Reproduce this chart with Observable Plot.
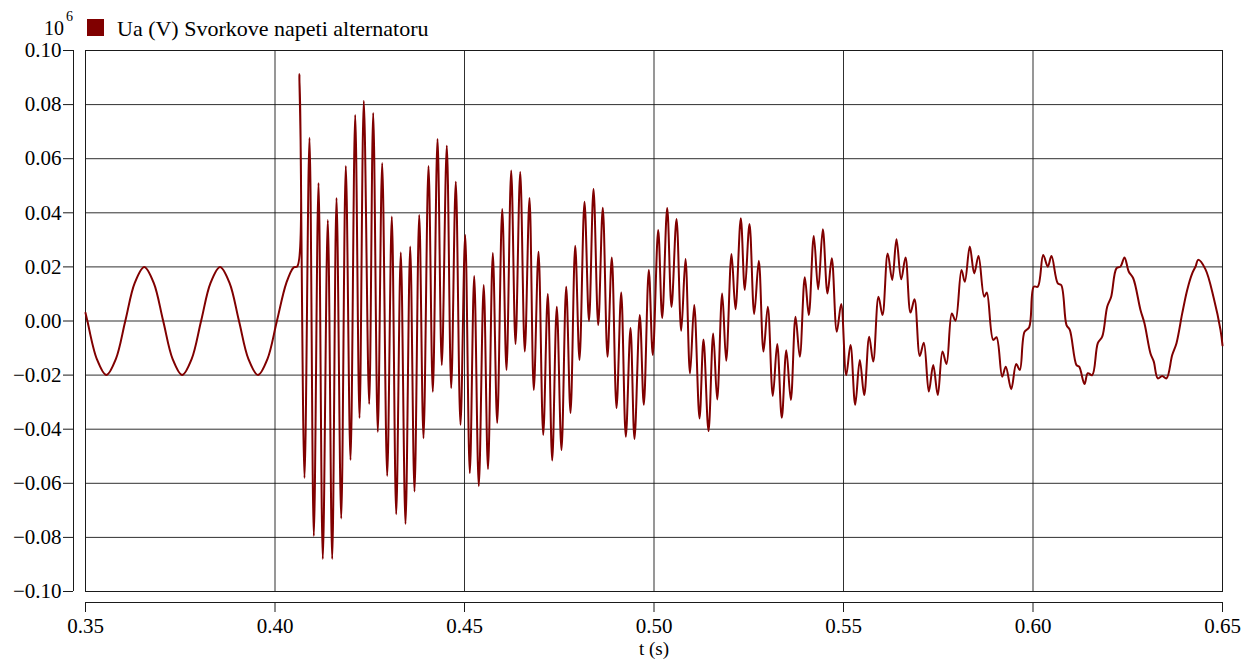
<!DOCTYPE html>
<html>
<head>
<meta charset="utf-8">
<script src="https://cdn.jsdelivr.net/npm/d3@7"></script>
<script src="https://cdn.jsdelivr.net/npm/@observablehq/plot@0.6"></script>
<style>
  html, body { margin: 0; padding: 0; background: #fff; }
  #wrap { width: 1254px; }
  #head { position: relative; width: 1254px; height: 40px; font-family: "Liberation Serif", serif; color: #000; }
  #head span { position: absolute; line-height: 1; white-space: nowrap; }
</style>
</head>
<body>
<div id="wrap">
  <div id="head">
    <span id="exp10" style="left:44px; top:18px; font-size:20px;">10</span>
    <span id="exp6" style="left:66px; top:10px; font-size:14px;">6</span>
    <span id="sw" style="left:87px; top:19px; width:17px; height:17px; background:#800000;"></span>
    <span id="leg" style="left:117px; top:18px; font-size:22px;"></span>
  </div>
  <div id="chart"></div>
</div>
<script>
// ---- labels ----
const seriesName = "Ua (V) Svorkove napeti alternatoru";
const xLabel = "t (s)";
const xTicks = [0.35, 0.40, 0.45, 0.50, 0.55, 0.60, 0.65];
const yTicks = [-0.10, -0.08, -0.06, -0.04, -0.02, 0.00, 0.02, 0.04, 0.06, 0.08, 0.10];

// ---- series: time (s) and voltage (x10^6 V) ----
const tSteady = [0.35, 0.3505, 0.353, 0.3555, 0.358, 0.3605, 0.363, 0.3655, 0.368, 0.3705,
  0.373, 0.3755, 0.378, 0.3805, 0.383, 0.3855, 0.388, 0.3905, 0.393, 0.3955,
  0.398, 0.4005, 0.403, 0.4049, 0.4059];
const uSteady = [0.003, 0.0, -0.0141, -0.02, -0.0141, 0.0, 0.0141, 0.02, 0.0141, 0.0,
  -0.0141, -0.02, -0.0141, 0.0, 0.0141, 0.02, 0.0141, 0.0, -0.0141, -0.02,
  -0.0141, 0.0, 0.0141, 0.0198, 0.0202];

const tFault = [0.40646, 0.40778, 0.40910, 0.41024, 0.41148, 0.41261, 0.41393, 0.41509, 0.41623, 0.41747,
  0.41868, 0.41992, 0.42116, 0.42230, 0.42343, 0.42485, 0.42591, 0.42712, 0.42828, 0.42960,
  0.43082, 0.43198, 0.43319, 0.43443, 0.43567, 0.43681, 0.43805, 0.43918, 0.44050, 0.44164,
  0.44288, 0.44401, 0.44533, 0.44649, 0.44770, 0.44894, 0.45018, 0.45140, 0.45256, 0.45377,
  0.45507, 0.45620, 0.45747, 0.45863, 0.45995, 0.46108, 0.46232, 0.46346, 0.46470, 0.46591,
  0.46715, 0.46828, 0.46953, 0.47077, 0.47198, 0.47314, 0.47435, 0.47559, 0.47683, 0.47797,
  0.47921, 0.48034, 0.48166, 0.48285, 0.48404, 0.48528, 0.48649, 0.48773, 0.48887, 0.49011,
  0.49135, 0.49256, 0.49380, 0.49485, 0.49625, 0.49731, 0.49863, 0.49968, 0.50111, 0.50216,
  0.50348, 0.50462, 0.50594, 0.50718, 0.50831, 0.50950, 0.51061, 0.51201, 0.51306, 0.51438,
  0.51562, 0.51667, 0.51799, 0.51905, 0.52045, 0.52150, 0.52290, 0.52396, 0.52520, 0.52644,
  0.52765, 0.52889, 0.53003, 0.53135, 0.53251, 0.53372, 0.53491, 0.53610, 0.53734, 0.53847,
  0.53979, 0.54084, 0.54216, 0.54332, 0.54454, 0.54578, 0.54691, 0.54823, 0.54939, 0.55071,
  0.55185, 0.55309, 0.55430, 0.55546, 0.55678, 0.55784, 0.55923, 0.56029, 0.56166, 0.56285,
  0.56398, 0.56522, 0.56636, 0.56768, 0.56873, 0.57013, 0.57119, 0.57251, 0.57367, 0.57488,
  0.57612, 0.57718, 0.57858, 0.57955, 0.58113, 0.58201, 0.58332, 0.58449, 0.58562, 0.58712,
  0.58781, 0.58950, 0.59037, 0.59187, 0.59282, 0.59425, 0.59557, 0.59652, 0.59776, 0.59900,
  0.60021, 0.60127, 0.60269, 0.60390, 0.60488, 0.60654, 0.60744, 0.60884, 0.60971, 0.61148,
  0.61219, 0.61359, 0.61446, 0.61562, 0.61710, 0.61826, 0.61958, 0.62063, 0.62203, 0.62309,
  0.62414, 0.62528, 0.62644, 0.62836, 0.62942, 0.63100, 0.63187, 0.63293, 0.63409, 0.63522,
  0.63673, 0.63786, 0.63937, 0.64069, 0.64201, 0.64288, 0.64359, 0.64551, 0.64770, 0.64947,
  0.65];
const uFault = [0.0913, -0.058, 0.0677, -0.0795, 0.051, -0.088, 0.0373, -0.088, 0.0455, -0.073,
  0.0573, -0.0514, 0.0762, -0.0359, 0.0814, -0.0307, 0.0769, -0.041, 0.0584, -0.0573,
  0.0386, -0.0714, 0.0253, -0.075, 0.0275, -0.063, 0.0392, -0.0433, 0.0573, -0.0262,
  0.0673, -0.0163, 0.0648, -0.0248, 0.0515, -0.0384, 0.0318, -0.0562, 0.0166, -0.061,
  0.0133, -0.0547, 0.0251, -0.0377, 0.0414, -0.0181, 0.0556, -0.0085, 0.0551, -0.0113,
  0.0455, -0.0255, 0.0256, -0.0421, 0.010, -0.0516, 0.0053, -0.0477, 0.0127, -0.034,
  0.0278, -0.0144, 0.0441, 0.0, 0.0488, -0.0015, 0.0419, -0.0132, 0.0235, -0.0322,
  0.0105, -0.0428, -0.0026, -0.0436, 0.0022, -0.031, 0.0189, -0.0126, 0.0336, 0.0011,
  0.0418, 0.0052, 0.0377, -0.0036, 0.0229, -0.0194, 0.0059, -0.036, -0.0068, -0.0407,
  -0.0046, -0.029, 0.0102, -0.0147, 0.0248, 0.0043, 0.038, 0.0115, 0.0359, 0.0026,
  0.0223, -0.0113, 0.0053, -0.0277, -0.0085, -0.0358, -0.0108, -0.0292, 0.0016, -0.0132,
  0.0162, 0.0022, 0.0314, 0.0117, 0.0339, 0.0102, 0.0232, -0.004, 0.0063, -0.020,
  -0.0089, -0.031, -0.0144, -0.0274, -0.0058, -0.015, 0.009, 0.0022, 0.025, 0.0152,
  0.0302, 0.0154, 0.0235, 0.0031, 0.008, -0.0129, -0.008, -0.0261, -0.0163, -0.0274,
  -0.0113, -0.0159, 0.0028, 0.0001, 0.0189, 0.0145, 0.0275, 0.0176, 0.024, 0.009,
  0.0105, -0.007, -0.006, -0.0206, -0.0169, -0.0252, -0.0159, -0.0181, -0.004, -0.0023,
  0.0127, 0.0127, 0.0244, 0.0201, 0.024, 0.0139, 0.0133, -0.0015, -0.0033, -0.0163,
  -0.0169, -0.0233, -0.0193, -0.020, -0.0082, -0.0058, 0.0053, 0.009, 0.0195, 0.0201,
  0.0235, 0.0182, 0.0158, 0.0041, -0.0009, -0.012, -0.015, -0.0212, -0.0203, -0.0212,
  -0.0126, -0.0082, 0.0028, 0.0115, 0.0176, 0.0201, 0.0226, 0.0191, 0.0084, -0.0033,
  -0.009];

const times = tSteady.concat(tFault);
const volts = uSteady.concat(uFault);
const data = times.map((t, i) => ({t, u: volts[i]}));

document.getElementById("leg").textContent = seriesName;

const fmt = d3.format(".2f");
const gridColor = "#1a1a1a";
const lineColor = "#800000";

const chart = Plot.plot({
  width: 1254,
  height: 622,
  marginTop: 10,
  marginBottom: 71,
  marginLeft: 85,
  marginRight: 32,
  style: {fontFamily: "'Liberation Serif', serif", fontSize: "21px", color: "#000", background: "#fff", overflow: "visible"},
  x: {domain: [0.35, 0.65]},
  y: {domain: [-0.10, 0.10]},
  marks: [
    Plot.gridX(xTicks, {stroke: gridColor, strokeOpacity: 0.9, strokeWidth: 1}),
    Plot.gridY(yTicks, {stroke: gridColor, strokeOpacity: 0.9, strokeWidth: 1}),
    Plot.frame({stroke: gridColor, strokeWidth: 1}),
    Plot.ruleX([0.35], {dx: -12, stroke: gridColor, strokeWidth: 1}),
    Plot.ruleY([-0.10], {dy: 11, stroke: gridColor, strokeWidth: 1}),
    Plot.axisX({ticks: xTicks, tickFormat: fmt, tickSize: 10, dy: 11, tickPadding: 6, label: null, fontSize: 21, stroke: gridColor}),
    Plot.axisY({ticks: yTicks, tickFormat: fmt, tickSize: 10, dx: -12, tickPadding: 2, label: null, fontSize: 21, stroke: gridColor}),
    Plot.text([xLabel], {frameAnchor: "bottom", dy: 50, lineAnchor: "top", text: d => d, fontSize: 19}),
    Plot.line(data, {x: "t", y: "u", stroke: lineColor, strokeWidth: 2, curve: "catmull-rom"})
  ]
});
document.getElementById("chart").appendChild(chart);
</script>
</body>
</html>
